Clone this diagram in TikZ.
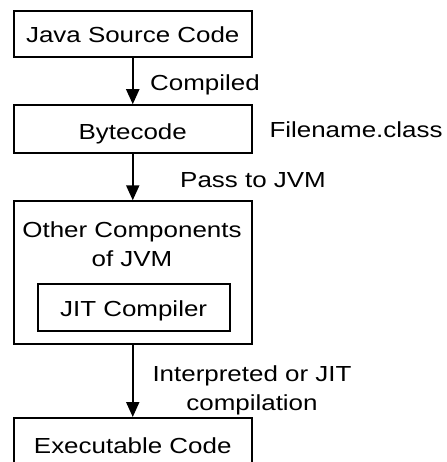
\documentclass[tikz,border=0pt]{standalone}
\usepackage{fontspec}
\setmainfont{Liberation Sans}[FakeStretch=1.19]
\usetikzlibrary{arrows.meta}
\tikzset{
  every node/.style={font=\fontsize{21.8}{29.4}\selectfont, inner sep=0pt},
  box/.style={draw, line width=2pt, minimum width=237.5pt, text depth=0pt},
  arr/.style={line width=2pt, -{Triangle[length=15pt,width=13pt]}},
  lbl/.style={anchor=base west}
}
\begin{document}
\begin{tikzpicture}[x=1pt,y=-1pt]
\useasboundingbox (0,0) rectangle (446,462);
\node[box, minimum height=46pt, text height=16.6pt] (src) at (132.75,34) {Java Source Code};
\node[box, minimum height=47.5pt, text height=20.6pt] (bc) at (132.75,129) {Bytecode};
\node[box, minimum height=143pt] (jvm) at (132.75,272.8) {};
\node[anchor=base, align=center] (octext) at (132,266.7) {Other Components\\of JVM};
\node[draw, line width=2pt, minimum width=192.2pt, minimum height=46.6pt, text height=17.6pt, text depth=0pt] (jit) at (133.6,307.5) {JIT Compiler};
\node[box, minimum height=48pt, text height=22pt] (exe) at (132.75,442) {Executable Code};
\draw[arr] (src.south) -- (bc.north);
\draw[arr] (bc.south) -- (jvm.north);
\draw[arr] (jvm.south) -- (exe.north);
\node[lbl] (compiled) at (150,91) {Compiled};
\node[lbl] (fname) at (269.3,137.7) {Filename.class};
\node[lbl] (pass) at (180,187.3) {Pass to JVM};
\node[anchor=base, align=center] (interp) at (252,410.7) {Interpreted or JIT\\compilation};
\end{tikzpicture}
\end{document}
